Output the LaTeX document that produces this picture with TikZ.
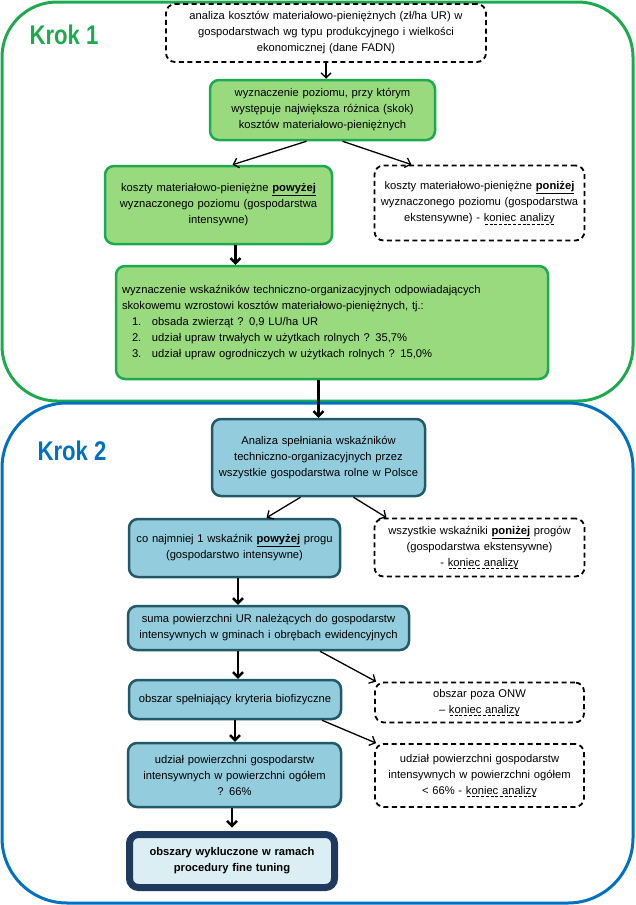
\documentclass[tikz,border=0pt]{standalone}
\usepackage{fontspec}
\setmainfont{Liberation Sans}
\usetikzlibrary{arrows.meta}
\definecolor{krokgreen}{HTML}{1DAA4E}
\definecolor{boxgreen}{HTML}{9ADA7F}
\definecolor{krokblue}{HTML}{0070C0}
\definecolor{boxblue}{HTML}{93CDDD}
\definecolor{boxline}{HTML}{215968}
\definecolor{lastfill}{HTML}{DBEEF4}
\definecolor{lastline}{HTML}{1F3A5F}
% dashed underline for "koniec analizy"
\newcommand{\dashunder}[1]{\setbox0=\hbox{#1}\leavevmode\rlap{\raisebox{-2.4pt}{\hbox to \wd0{\xleaders\hbox to 4.5pt{\hss\rule{3pt}{0.6pt}\hss}\hfill}}}\box0}
\begin{document}
\begin{tikzpicture}[x=1pt,y=-1pt]
            \tikzstyle{arrow}=[line width=1.3pt,-{Straight Barb[length=5pt,width=10pt]}]
            \tikzstyle{thickarrow}=[arrow,line width=2.4pt]
            \tikzstyle{txt}=[align=center,inner sep=0pt,font=\fontsize{11.2}{16}\selectfont]
            \tikzstyle{greenbox}=[txt,draw=krokgreen,fill=boxgreen,line width=2.5pt,rounded corners=9pt]
            \tikzstyle{bluebox}=[txt,draw=boxline,fill=boxblue,line width=2.5pt,rounded corners=9pt]
            \tikzstyle{endbox}=[txt,draw=black,fill=white,line width=1.8pt,dash pattern=on 5pt off 3.5pt,rounded corners=9pt]
            \tikzstyle{krok}=[font=\bfseries\fontsize{27}{27}\selectfont,xscale=0.82,transform shape]
            \useasboundingbox (0,0) rectangle (635,905);
            % frames of both steps
            \draw[krokgreen,line width=3pt,rounded corners=55pt] (2,2) rectangle (633,401);
            \draw[krokblue,line width=3pt,rounded corners=65pt] (2,403) rectangle (633,903);
            \node[krok,text=krokgreen] (krok1) at (64,35) {Krok 1};
            \node[krok,text=krokblue] (krok2) at (72,451) {Krok 2};
            % step 1
            \node[endbox,minimum width=320pt,minimum height=58pt,text width=310pt] (fadn) at (326,33)
                {analiza kosztów materiałowo-pieniężnych (zł/ha UR) w\\ gospodarstwach wg typu produkcyjnego i wielkości\\ ekonomicznej (dane FADN)};
            \node[greenbox,minimum width=225pt,minimum height=60pt,text width=215pt] (poziom) at (322.5,110)
                {wyznaczenie poziomu, przy którym\\ występuje największa różnica (skok)\\ kosztów materiałowo-pieniężnych};
            \node[greenbox,minimum width=227pt,minimum height=78pt,text width=217pt] (powyzej) at (218.5,205)
                {koszty materiałowo-pieniężne \underline{\textbf{powyżej}}\\ wyznaczonego poziomu (gospodarstwa\\ intensywne)};
            \node[endbox,minimum width=210pt,minimum height=75pt,text width=204pt] (ponizej) at (479.5,203)
                {koszty materiałowo-pieniężne \underline{\textbf{poniżej}}\\ wyznaczonego poziomu (gospodarstwa\\ ekstensywne) - \dashunder{koniec analizy}};
            \node[greenbox,minimum width=432pt,minimum height=113pt,text width=420pt,align=left] (wskazniki) at (332,322.5)
                {wyznaczenie wskaźników techniczno-organizacyjnych odpowiadających\\
                 skokowemu wzrostowi kosztów materiałowo-pieniężnych, tj.:\\
                 \hspace*{10pt}\makebox[20pt][l]{1.}obsada zwierząt ? 0,9 LU/ha UR\\
                 \hspace*{10pt}\makebox[20pt][l]{2.}udział upraw trwałych w użytkach rolnych ? 35,7\%\\
                 \hspace*{10pt}\makebox[20pt][l]{3.}udział upraw ogrodniczych w użytkach rolnych ? 15,0\%};
            \draw[arrow] (fadn.south) -- (fadn.south |- poziom.north);
            \draw[arrow] ([xshift=-16pt]poziom.south) -- ([xshift=14pt]powyzej.north);
            \draw[arrow] ([xshift=20pt]poziom.south) -- ([xshift=-68pt]ponizej.north);
            \draw[thickarrow] ([xshift=17pt]powyzej.south) -- ([xshift=17pt]powyzej.south |- wskazniki.north);
            % step 2
            \node[bluebox,minimum width=213pt,minimum height=77pt,text width=207pt] (analiza) at (318.5,457.5)
                {Analiza spełniania wskaźników\\ techniczno-organizacyjnych przez\\ wszystkie gospodarstwa rolne w Polsce};
            \draw[thickarrow] (wskazniki.south -| analiza.north) -- (analiza.north);
            \node[bluebox,minimum width=211pt,minimum height=58pt,text width=205pt] (intens) at (234.5,548)
                {co najmniej 1 wskaźnik \underline{\textbf{powyżej}} progu\\ (gospodarstwo intensywne)};
            \node[endbox,minimum width=210pt,minimum height=58pt,text width=204pt] (ekstens) at (479.5,547.5)
                {wszystkie wskaźniki \underline{\textbf{poniżej}} progów\\ (gospodarstwa ekstensywne)\\ - \dashunder{koniec analizy}};
            \draw[arrow] ([xshift=-18pt]analiza.south) -- ([xshift=32pt]intens.north);
            \draw[arrow] ([xshift=35pt]analiza.south) -- ([xshift=-93pt]ekstens.north);
            \node[bluebox,minimum width=281pt,minimum height=44pt,text width=277pt] (suma) at (268.5,628)
                {suma powierzchni UR należących do gospodarstw\\ intensywnych w gminach i obrębach ewidencyjnych};
            \draw[thickarrow] ([xshift=3.5pt]intens.south) -- ([xshift=3.5pt]intens.south |- suma.north);
            \node[bluebox,minimum width=212pt,minimum height=39pt,text width=206pt] (biofiz) at (235,699.5)
                {obszar spełniający kryteria biofizyczne};
            \node[endbox,minimum width=209pt,minimum height=40pt,text width=203pt] (onw) at (479.5,702.5)
                {obszar poza ONW\\ – \dashunder{koniec analizy}};
            \draw[thickarrow] ([xshift=3pt]biofiz.north |- suma.south) -- ([xshift=3pt]biofiz.north);
            \draw[arrow] ([xshift=51.5pt]suma.south) -- ([xshift=2pt]onw.north west);
            \node[bluebox,minimum width=213pt,minimum height=64pt,text width=207pt] (udzial) at (234.5,775)
                {udział powierzchni gospodarstw\\ intensywnych w powierzchni ogółem\\ ? 66\%};
            \node[endbox,minimum width=209pt,minimum height=63pt,text width=203pt] (mniej) at (479.5,775.5)
                {udział powierzchni gospodarstw\\ intensywnych w powierzchni ogółem\\ < 66\% - \dashunder{koniec analizy}};
            \draw[thickarrow] (biofiz.south) -- (biofiz.south |- udzial.north);
            \draw[arrow] ([xshift=87pt]biofiz.south) -- ([xshift=2pt]mniej.north west);
            \node[txt,draw=lastline,fill=lastfill,line width=7pt,rounded corners=9pt,minimum width=205pt,minimum height=53pt,text width=197pt] (wynik) at (232,861)
                {\textbf{obszary wykluczone w ramach}\\ \textbf{procedury fine tuning}};
            \draw[thickarrow] (wynik.north |- udzial.south) -- ([yshift=3.5pt]wynik.north);
\end{tikzpicture}
\end{document}
